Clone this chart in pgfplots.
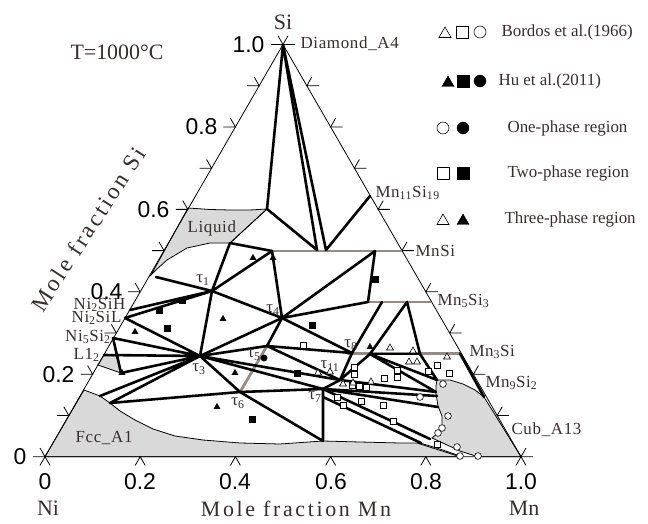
\documentclass[border=0pt]{standalone}
\usepackage{pgfplots}
\pgfplotsset{compat=1.18}
\usepackage{fontspec}
\setmainfont{Liberation Serif}
\newfontfamily\ticksfont{Liberation Sans}
\newfontfamily\titlefont[LetterSpace=12]{Liberation Serif}
\newfontfamily\lblfont[LetterSpace=4]{Liberation Serif}
\definecolor{rgray}{RGB}{217,217,217}
\definecolor{hgray}{RGB}{150,140,135}
\definecolor{tgray}{RGB}{55,45,45}
\pgfplotsset{
  tie/.style={black, line width=2.6pt, no marks, forget plot, line join=round, line cap=round},
  bnd/.style={black, line width=0.8pt, no marks, forget plot},
  hom/.style={color=hgray, line width=2.8pt, no marks, forget plot},
  region/.style={fill=rgray, draw=black, line width=0.8pt, no marks, forget plot},
  osq/.style={only marks, mark=square*, mark size=3.2pt, mark options={fill=white, draw=black, line width=0.6pt}, forget plot},
  otr/.style={only marks, mark=triangle*, mark size=4pt, mark options={fill=white, draw=black, line width=0.6pt}, forget plot},
  oci/.style={only marks, mark=*, mark size=3.4pt, mark options={fill=white, draw=black, line width=0.6pt}, forget plot},
  fsq/.style={only marks, mark=square*, mark size=3.2pt, mark options={fill=black, draw=black}, forget plot},
  ftr/.style={only marks, mark=triangle*, mark size=3.6pt, mark options={fill=black, draw=black}, forget plot},
  fci/.style={only marks, mark=*, mark size=3.2pt, mark options={fill=black, draw=black}, forget plot},
}
\begin{document}
\begin{tikzpicture}
\begin{axis}[scale only axis, width=648bp, height=524bp,
  xmin=0, xmax=648, ymin=0, ymax=524, y dir=reverse,
  hide axis, clip=false]

% ---- single-phase regions (pixel positions of the original figure)
% Liquid
\addplot[region] coordinates {(188,208)(210,209.5)(230,210)(250,210)(267,209)(230,243)(210,243)(187,248)(167,260)(157,269)(151,275)} -- cycle;
% Fcc_A1
\addplot[region] coordinates {(84,390)(92,393)(100,396)(110,403)(120,411)(135,420)(153,429)(175,436)(203,440)(240,443)(280,444)(323,441)(360,442)(400,443)(420,443)(440,449)(460,456)(460,456.7)(45,456.7)} -- cycle;
% Cub_A13
\addplot[region] coordinates {(437,380)(450,380)(463,384)(475,390)(484,397)(521,456.7)(478,456.7)(460,451)(445,444)(432,438)(438,433)(442,426)(442,416)(438,406)(436,394)(436,386)} -- cycle;
% L1_2
\addplot[region] coordinates {(104,355)(118,356)(121,373)(98,365)} -- cycle;

% ---- triangle frame
\addplot[bnd] coordinates {(45,456.7)(283,44.5)(521,456.7)} -- cycle;

% ticks
\pgfplotsinvokeforeach{0,0.1,0.2,0.3,0.4,0.5,0.6,0.7,0.8,0.9,1}{
  \draw[line width=0.8pt] (axis cs:{45+238*#1-12},{456.7-412.2*#1}) -- (axis cs:{45+238*#1},{456.7-412.2*#1}) -- (axis cs:{45+238*#1-5},{456.7-412.2*#1-8.7});
  \draw[line width=0.8pt] (axis cs:{521-238*#1+12},{456.7-412.2*#1}) -- (axis cs:{521-238*#1},{456.7-412.2*#1}) -- (axis cs:{521-238*#1+5},{456.7-412.2*#1-8.7});
}
\pgfplotsinvokeforeach{0,0.2,0.4,0.6,0.8,1}{
  \draw[line width=0.8pt] (axis cs:{45+476*#1-5},465.4) -- (axis cs:{45+476*#1},456.7) -- (axis cs:{45+476*#1+5},465.4);
}

% ---- homogeneity ranges (grey)
\addplot[hom] coordinates {(272,251)(402,251)};
\addplot[hom] coordinates {(368,302)(431,302)};
\addplot[hom] coordinates {(347,353.5)(460,353.5)};
\addplot[hom] coordinates {(267,346)(240,392)};

% ---- tie lines / phase boundaries
\addplot[tie] coordinates {(267,209)(283,45)(317,250)(267,209)};
\addplot[tie] coordinates {(283,45)(326,250)(370,196)};
\addplot[bnd] coordinates {(267,209)(230,243)};
\addplot[tie] coordinates {(272,251)(230,243)(212,291)(156,277)};
\addplot[tie] coordinates {(272,251)(212,291)};
\addplot[tie] coordinates {(130,310)(212,291)(125,318)};
\addplot[tie] coordinates {(272,251)(282,318)(212,291)(200,356)(282,318)};
\addplot[tie] coordinates {(125,318)(200,356)(113,338)(121,373)(200,356)(104,355)};
\addplot[tie] coordinates {(100,396)(200,356)(110,403)(240,392)(323,389)};
\addplot[tie] coordinates {(282,318)(375,251)(368,302)(282,318)};
\addplot[tie] coordinates {(282,318)(352,353)(267,346)(282,318)};
\addplot[tie] coordinates {(382,302)(352,353)};
\addplot[tie] coordinates {(370,354)(407,302)(420,354)};
\addplot[tie] coordinates {(200,356)(267,346)};
\addplot[tie] coordinates {(200,356)(240,392)(323,441)(323,389)};
\addplot[tie] coordinates {(200,356)(323,389)};
\addplot[tie] coordinates {(200,356)(340,380)};
\addplot[tie] coordinates {(267,346)(340,380)};
\addplot[tie] coordinates {(352,353)(340,380)(370,354)};
\addplot[tie] coordinates {(340,380)(323,389)};
\addplot[tie] coordinates {(370,354)(420,354)};
\addplot[tie] coordinates {(420,354)(437,380)(370,354)};
\addplot[tie] coordinates {(370,354)(436,392)(340,380)};
\addplot[tie] coordinates {(323,389)(437,396)};
\addplot[tie] coordinates {(323,389)(438,407)};
\addplot[tie] coordinates {(323,389)(430,439)};
\addplot[tie] coordinates {(323,397)(421,443)};
\addplot[tie] coordinates {(460,353.5)(484,397)};
\addplot[bnd] coordinates {(417,443)(460,456.7)};

% ---- experimental data: Bordos et al. (1966), open symbols
\addplot[osq] coordinates {(303,345)(354,367)(354,374)(397,370)(397,377)(384,378)(437,365)(449,373)(428,371)(337,397)(343,405)(361,401)(383,405)(393,421)(437,444)(352,385)(359,386)(366,387)};
\addplot[otr] coordinates {(390,348)(413,351)(409,362)(417,362)(447,357)(318,373)(330,372)(343,384)(353,383)(371,382)};
\addplot[oci] coordinates {(443,384)(420,397)(448,416)(442,428)(438,433)(457,447)(460,456)(478,456)};
% ---- experimental data: Hu et al. (2011), filled symbols
\addplot[ftr] coordinates {(253,258)(273,258)(223,319)(135,332)(235,373)(217,407)(122,373)(370,347)};
\addplot[fsq] coordinates {(182,300)(159,310)(167,328)(375,279)(312,325)(252,419)(297,373)};
\addplot[fci] coordinates {(264,358)};

% ---- legend symbols
\addplot[otr, mark size=7pt] coordinates {(445,34)};
\addplot[osq, mark size=6pt] coordinates {(462,32)};
\addplot[oci, mark size=6pt] coordinates {(480,32)};
\addplot[ftr, mark size=7pt] coordinates {(448,83)};
\addplot[fsq, mark size=6pt] coordinates {(463,81)};
\addplot[fci, mark size=6pt] coordinates {(480,81)};
\addplot[oci, mark size=6pt] coordinates {(443,128)};
\addplot[fci, mark size=6pt] coordinates {(463,128)};
\addplot[osq, mark size=6pt] coordinates {(443,173)};
\addplot[fsq, mark size=6pt] coordinates {(463,173)};
\addplot[otr, mark size=7pt] coordinates {(443,221)};
\addplot[ftr, mark size=7pt] coordinates {(463,221)};

\begin{scope}[font={\fontsize{17}{20}\selectfont}, text=tgray]
\node[anchor=west] at (axis cs:498,32) {Bordos et al.(1966)};
\node[anchor=west] at (axis cs:495,81) {Hu et al.(2011)};
\node[anchor=west] at (axis cs:504,128) {One-phase region};
\node[anchor=west] at (axis cs:504,173) {Two-phase region};
\node[anchor=west] at (axis cs:501,219) {Three-phase region};
\end{scope}

\begin{scope}[font={\lblfont\fontsize{17}{20}\selectfont}, text=tgray]
\node[anchor=west] at (axis cs:297,44) {Diamond\_A4};
\node[anchor=west] at (axis cs:372,193) {Mn\textsubscript{11}Si\textsubscript{19}};
\node[anchor=west] at (axis cs:412,251) {MnSi};
\node[anchor=west] at (axis cs:434,301) {Mn\textsubscript{5}Si\textsubscript{3}};
\node[anchor=west] at (axis cs:466,352) {Mn\textsubscript{3}Si};
\node[anchor=west] at (axis cs:482,383) {Mn\textsubscript{9}Si\textsubscript{2}};
\node[anchor=west] at (axis cs:508,430) {Cub\_A13};
\node[anchor=west] at (axis cs:184,228) {Liquid};
\node[anchor=west] at (axis cs:72,438) {Fcc\_A1};
\node[anchor=east] at (axis cs:129,305) {Ni\textsubscript{2}SiH};
\node[anchor=east] at (axis cs:125,318) {Ni\textsubscript{2}SiL};
\node[anchor=east] at (axis cs:114,337) {Ni\textsubscript{5}Si\textsubscript{2}};
\node[anchor=east] at (axis cs:103,355) {L1\textsubscript{2}};
\end{scope}

\begin{scope}[font={\fontsize{17}{20}\selectfont}, text=tgray]
\node at (axis cs:203,280) {τ\textsubscript{1}};
\node at (axis cs:273,310) {τ\textsubscript{4}};
\node at (axis cs:199,369) {τ\textsubscript{3}};
\node at (axis cs:254,355) {τ\textsubscript{5}};
\node at (axis cs:238,403) {τ\textsubscript{6}};
\node at (axis cs:315,397) {τ\textsubscript{7}};
\node at (axis cs:351,345) {τ\textsubscript{8}};
\node at (axis cs:330,366) {τ\textsubscript{11}};
\end{scope}

% ---- tick labels
\begin{scope}[font={\ticksfont\fontsize{23}{26}\selectfont}]
\node[anchor=east] at (axis cs:30,456.7) {0};
\node[anchor=east] at (axis cs:78,374.3) {0.2};
\node[anchor=east] at (axis cs:126,291.8) {0.4};
\node[anchor=east] at (axis cs:173,209.4) {0.6};
\node[anchor=east] at (axis cs:221,127) {0.8};
\node[anchor=east] at (axis cs:268,44.5) {1.0};
\node at (axis cs:45,482) {0};
\node at (axis cs:140,482) {0.2};
\node at (axis cs:235,482) {0.4};
\node at (axis cs:331,482) {0.6};
\node at (axis cs:426,482) {0.8};
\node at (axis cs:521,482) {1.0};
\end{scope}

% ---- titles
\begin{scope}[font={\fontsize{22}{26}\selectfont}, text=tgray]
\node at (axis cs:283,22) {Si};
\node at (axis cs:48,508) {Ni};
\node at (axis cs:524,508) {Mn};
\node at (axis cs:117,52) {T=1000°C};
\node[font={\titlefont\fontsize{22}{26}\selectfont}] at (axis cs:296,509) {Mole fraction Mn};
\node[font={\titlefont\fontsize{23.5}{27}\selectfont}, rotate=57] at (axis cs:88,229) {Mole fraction Si};
\end{scope}
\end{axis}
\pgfresetboundingbox
\path (current axis.south west) rectangle (current axis.north east);
\end{tikzpicture}
\end{document}
